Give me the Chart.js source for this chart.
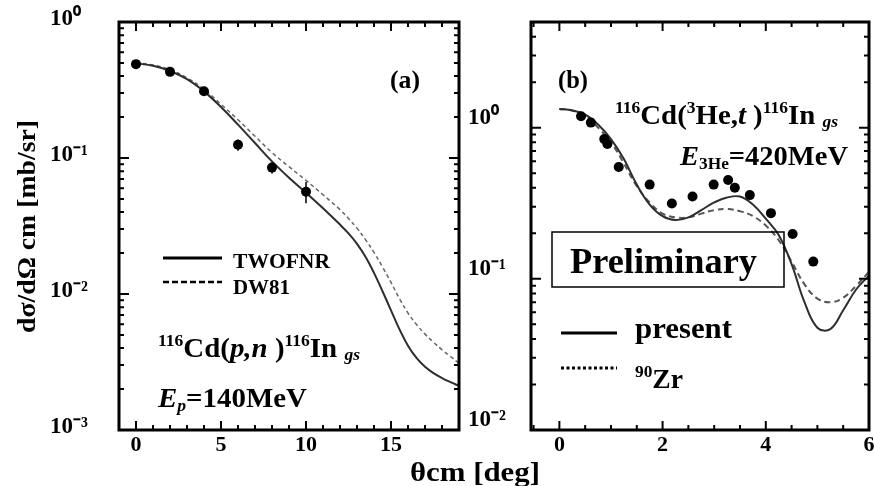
<!DOCTYPE html>
<html><head><meta charset="utf-8">
<script src="https://cdn.jsdelivr.net/npm/chart.js@4.4.0/dist/chart.umd.min.js"></script>
<style>
html,body{margin:0;padding:0;background:#fff;}
#wrap{position:relative;width:874px;height:486px;overflow:hidden;background:#fff;}
canvas{position:absolute;left:0;top:0;}
</style></head><body>
<div id="wrap"><canvas id="ca" width="874" height="486"></canvas><canvas id="cb" width="874" height="486"></canvas></div>
<script>
// ---------- Panel (a): 116Cd(p,n) ----------
const aPointsX = [0, 2, 4, 6, 8, 10];
const aPointsY = [0.49, 0.43, 0.31, 0.125, 0.085, 0.0565];
const aPointsErr = [0.01, 0.01, 0.01, 0.012, 0.008, 0.01];
const aCurveX = [0, 1, 2, 3, 4, 5, 6, 7, 8, 9, 10, 11, 12, 12.5, 13, 13.5, 14, 14.5, 15, 15.5, 16, 16.5, 17, 17.5, 18, 18.5, 19];
const aTwofnrY = [0.4966, 0.4764, 0.4365, 0.3802, 0.3090, 0.2371, 0.1758, 0.1288, 0.0944, 0.0716, 0.0556, 0.0427, 0.0324, 0.0279, 0.0234, 0.0188, 0.0143, 0.01047, 0.00759, 0.00550, 0.00417, 0.00339, 0.00292, 0.00262, 0.00241, 0.00225, 0.00211];
const aDw81Y = [0.501, 0.483, 0.445, 0.389, 0.320, 0.248, 0.191, 0.1445, 0.1096, 0.0863, 0.0684, 0.0537, 0.0417, 0.0359, 0.0305, 0.0251, 0.0202, 0.0158, 0.01216, 0.00923, 0.00724, 0.00596, 0.00507, 0.00442, 0.00389, 0.00347, 0.00309];
const aXTicks = [0, 5, 10, 15];
const aYTicks = [0.001, 0.01, 0.1, 1];
const aYLabels = ['10\u207B\u00B3', '10\u207B\u00B2', '10\u207B\u00B9', '10\u2070'];

// ---------- Panel (b): 116Cd(3He,t) ----------
const bPointsX = [0.42, 0.61, 0.87, 0.93, 1.15, 1.75, 2.18, 2.58, 2.99, 3.27, 3.40, 3.69, 4.10, 4.52, 4.92];
const bPointsY = [1.19, 1.08, 0.84, 0.78, 0.55, 0.42, 0.315, 0.35, 0.42, 0.45, 0.40, 0.358, 0.272, 0.198, 0.13];
const bCurveX = [0, 0.25, 0.5, 0.75, 1.0, 1.25, 1.5, 1.75, 2.0, 2.25, 2.5, 2.75, 3.0, 3.25, 3.5, 3.75, 4.0, 4.25, 4.5, 4.75, 5.0, 5.25, 5.5, 5.75, 6.0];
const bPresentY = [1.33, 1.30, 1.22, 1.05, 0.84, 0.62, 0.42, 0.31, 0.26, 0.245, 0.255, 0.285, 0.32, 0.345, 0.35, 0.31, 0.25, 0.195, 0.125, 0.070, 0.0475, 0.0465, 0.062, 0.085, 0.105];
const bZrY = [1.33, 1.30, 1.20, 1.00, 0.80, 0.58, 0.41, 0.32, 0.27, 0.255, 0.255, 0.27, 0.285, 0.29, 0.28, 0.26, 0.225, 0.18, 0.13, 0.092, 0.074, 0.070, 0.075, 0.09, 0.111];
const bXTicks = [0, 2, 4, 6];
const bYTicks = [0.01, 0.1, 1];
const bYLabels = ['10\u207B\u00B2', '10\u207B\u00B9', '10\u2070'];

const SERIF = '"Liberation Serif", "Times New Roman", serif';

function pts(xs, ys) { return xs.map((x, i) => ({x: x, y: ys[i]})); }

function rich(ctx, x, y, parts, targetW) {
  ctx.save();
  ctx.textBaseline = 'alphabetic';
  ctx.textAlign = 'left';
  ctx.fillStyle = '#000';
  let total = 0;
  for (const p of parts) { ctx.font = (p.f || 'bold') + ' ' + p.s + 'px ' + SERIF; total += ctx.measureText(p.t).width; }
  const k = targetW ? targetW / total : 1;
  ctx.translate(x, y);
  ctx.scale(k, 1);
  let cx = 0;
  for (const p of parts) {
    ctx.font = (p.f || 'bold') + ' ' + p.s + 'px ' + SERIF;
    ctx.fillText(p.t, cx, p.dy || 0);
    cx += ctx.measureText(p.t).width;
  }
  ctx.restore();
}

function drawFrameTicks(chart, xMinorStep, yDecades) {
  const ctx = chart.ctx, a = chart.chartArea;
  const xs = chart.scales.x, ys = chart.scales.y;
  ctx.save();
  ctx.strokeStyle = '#000';
  ctx.lineWidth = 2;
  ctx.beginPath();
  const start = Math.ceil(xs.min / xMinorStep) * xMinorStep;
  for (let v = start; v <= xs.max + 1e-9; v += xMinorStep) {
    const isMajor = xs.ticks.some(t => Math.abs(t.value - v) < 1e-6);
    const len = isMajor ? 9 : 5;
    const px = xs.getPixelForValue(v);
    ctx.moveTo(px, a.bottom); ctx.lineTo(px, a.bottom - len);
    ctx.moveTo(px, a.top); ctx.lineTo(px, a.top + len);
  }
  for (const d of yDecades) {
    for (let m = 1; m <= 9; m++) {
      const v = m * Math.pow(10, d);
      if (v < ys.min * 0.999 || v > ys.max * 1.001) continue;
      const len = m === 1 ? 10 : 5;
      const py = ys.getPixelForValue(v);
      ctx.moveTo(a.left, py); ctx.lineTo(a.left + len, py);
      ctx.moveTo(a.right, py); ctx.lineTo(a.right - len, py);
    }
  }
  ctx.stroke();
  ctx.lineWidth = 3;
  ctx.strokeRect(a.left, a.top, a.right - a.left, a.bottom - a.top);
  ctx.restore();
}

function legendLine(ctx, x1, x2, y, lw, dash, color) {
  ctx.save();
  ctx.strokeStyle = color; ctx.lineWidth = lw; ctx.setLineDash(dash);
  ctx.beginPath(); ctx.moveTo(x1, y); ctx.lineTo(x2, y); ctx.stroke();
  ctx.restore();
}

function makeOptions(cfg) {
  return {
    responsive: false, animation: false, devicePixelRatio: 1,
    layout: {padding: {left: cfg.padL, right: cfg.padR, top: 22, bottom: 26}},
    plugins: {legend: {display: false}, tooltip: {enabled: false}},
    scales: {
      x: {
        type: 'linear', min: cfg.xMin, max: cfg.xMax,
        grid: {display: false, drawTicks: false}, border: {display: false},
        afterBuildTicks: s => { s.ticks = cfg.xTicks.map(v => ({value: v})); },
        afterFit: s => { s.height = 30; s.paddingLeft = 0; s.paddingRight = 0; },
        ticks: {padding: 2, autoSkip: false, maxRotation: 0, color: '#000',
          font: {family: SERIF, weight: 'bold', size: 22},
          callback: v => String(v)}
      },
      y: {
        type: 'logarithmic', min: cfg.yMin, max: cfg.yMax,
        grid: {display: false, drawTicks: false}, border: {display: false},
        afterBuildTicks: s => { s.ticks = cfg.yTicks.map(v => ({value: v})); },
        afterFit: s => { s.width = cfg.yW; s.paddingTop = 0; s.paddingBottom = 0; },
        ticks: {crossAlign: 'far', padding: 0, autoSkip: false, color: '#000', labelOffset: cfg.labelOffset,
          font: {family: SERIF, weight: 'bold', size: 23},
          callback: (v, i) => cfg.yLabels[i]}
      }
    }
  };
}

const decorA = {
  id: 'decorA',
  beforeDatasetsDraw(chart) {
    const ctx = chart.ctx, xs = chart.scales.x, ys = chart.scales.y;
    ctx.save(); ctx.strokeStyle = '#000'; ctx.lineWidth = 1.5; ctx.beginPath();
    aPointsX.forEach((x, i) => {
      const px = xs.getPixelForValue(x);
      ctx.moveTo(px, ys.getPixelForValue(aPointsY[i] + aPointsErr[i]));
      ctx.lineTo(px, ys.getPixelForValue(aPointsY[i] - aPointsErr[i]));
    });
    ctx.stroke(); ctx.restore();
  },
  afterDraw(chart) {
    const ctx = chart.ctx;
    drawFrameTicks(chart, 1, [-3, -2, -1, 0]);
    rich(ctx, 390, 88, [{t: '(a)', s: 25}], 30);
    legendLine(ctx, 163, 222, 258, 3, [], '#000');
    legendLine(ctx, 163, 222, 282, 2.5, [6, 3], '#000');
    rich(ctx, 233, 268, [{t: 'TWOFNR', s: 21}], 97);
    rich(ctx, 233, 294, [{t: 'DW81', s: 21}], 57);
    rich(ctx, 158, 357, [
      {t: '116', s: 17, dy: -11}, {t: 'Cd(', s: 28}, {t: 'p,n', s: 28, f: 'italic bold'},
      {t: ' )', s: 28}, {t: '116', s: 17, dy: -11}, {t: 'In ', s: 28}, {t: 'gs', s: 17, f: 'italic bold', dy: 3}
    ], 202);
    rich(ctx, 158, 407, [
      {t: 'E', s: 28, f: 'italic bold'}, {t: 'p', s: 17, f: 'italic bold', dy: 4}, {t: '=140MeV', s: 28}
    ], 149);
    ctx.save();
    ctx.translate(35, 333);
    ctx.rotate(-Math.PI / 2);
    rich(ctx, 0, 0, [{t: 'd\u03C3/d\u03A9 cm [mb/sr]', s: 26}], 213);
    ctx.restore();
    rich(ctx, 410, 481, [{t: '\u03B8cm [deg]', s: 27}], 130);
  }
};

const decorB = {
  id: 'decorB',
  afterDraw(chart) {
    const ctx = chart.ctx;
    drawFrameTicks(chart, 0.5, [-2, -1, 0]);
    rich(ctx, 558, 88, [{t: '(b)', s: 25}], 30);
    rich(ctx, 615, 124, [
      {t: '116', s: 17, dy: -11}, {t: 'Cd(', s: 28}, {t: '3', s: 17, dy: -11}, {t: 'He,', s: 28},
      {t: 't', s: 28, f: 'italic bold'}, {t: ' )', s: 28}, {t: '116', s: 17, dy: -11}, {t: 'In ', s: 28},
      {t: 'gs', s: 17, f: 'italic bold', dy: 3}
    ], 223);
    rich(ctx, 680, 165, [
      {t: 'E', s: 28, f: 'italic bold'}, {t: '3He', s: 17, dy: 4}, {t: '=420MeV', s: 28}
    ], 168);
    ctx.save();
    ctx.strokeStyle = '#000'; ctx.lineWidth = 1.5;
    ctx.strokeRect(552, 232, 232, 55);
    ctx.restore();
    rich(ctx, 570, 273, [{t: 'Preliminary', s: 36}], 187);
    legendLine(ctx, 561, 617, 333, 3, [], '#000');
    legendLine(ctx, 561, 617, 368, 3, [3, 2.5], '#000');
    rich(ctx, 635, 338, [{t: 'present', s: 29}], 97);
    rich(ctx, 635, 388, [{t: '90', s: 17, dy: -11}, {t: 'Zr', s: 27}], 48);
  }
};

const curveStyle = {showLine: true, pointRadius: 0, tension: 0.4, fill: false};

new Chart(document.getElementById('ca'), {
  type: 'scatter',
  data: {datasets: [
    {label: 'data', data: pts(aPointsX, aPointsY), showLine: false, pointRadius: 5, pointBackgroundColor: '#000', pointBorderColor: '#000', pointBorderWidth: 0},
    Object.assign({label: 'TWOFNR', data: pts(aCurveX, aTwofnrY), borderColor: '#2e2e2e', borderWidth: 2}, curveStyle),
    Object.assign({label: 'DW81', data: pts(aCurveX, aDw81Y), borderColor: '#666', borderWidth: 1.5, borderDash: [4, 3]}, curveStyle)
  ]},
  options: makeOptions({padL: 50, padR: 415, yW: 69, xMin: -1, xMax: 19, yMin: 0.001, yMax: 1,
    xTicks: aXTicks, yTicks: aYTicks, yLabels: aYLabels, labelOffset: -3}),
  plugins: [decorA]
});

new Chart(document.getElementById('cb'), {
  type: 'scatter',
  data: {datasets: [
    {label: 'data', data: pts(bPointsX, bPointsY), showLine: false, pointRadius: 5, pointBackgroundColor: '#000', pointBorderColor: '#000', pointBorderWidth: 0},
    Object.assign({label: 'present', data: pts(bCurveX, bPresentY), borderColor: '#2e2e2e', borderWidth: 2}, curveStyle),
    Object.assign({label: '90Zr', data: pts(bCurveX, bZrY), borderColor: '#555', borderWidth: 2, borderDash: [6, 4]}, curveStyle)
  ]},
  options: makeOptions({padL: 468, padR: 2, yW: 63, xMin: -0.55, xMax: 6, yMin: 0.01, yMax: 5,
    xTicks: bXTicks, yTicks: bYTicks, yLabels: bYLabels, labelOffset: -10}),
  plugins: [decorB]
});
</script>
</body></html>
